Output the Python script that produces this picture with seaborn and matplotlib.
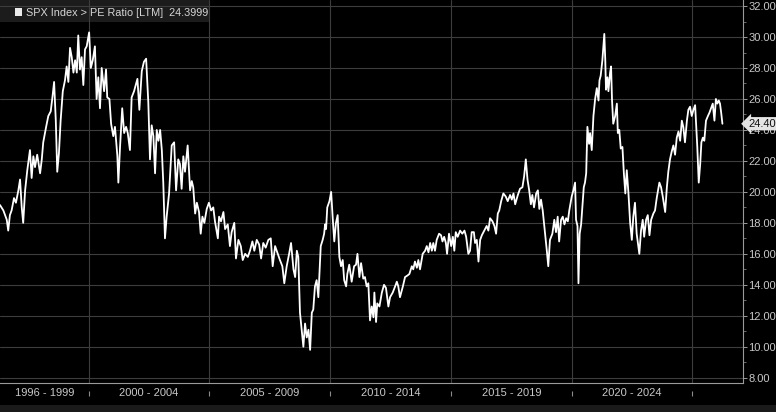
import matplotlib
matplotlib.use("Agg")
import matplotlib.pyplot as plt
import seaborn as sns
import pandas as pd
from matplotlib.patches import Rectangle

# ---- data (decimal year, trailing P/E) ----
dates = [
    1996.33, 1996.47, 1996.61, 1996.67, 1996.74, 1996.81, 1996.91, 1996.99, 1997.09, 1997.16,
    1997.23, 1997.29, 1997.37, 1997.46, 1997.57, 1997.64, 1997.71, 1997.78, 1997.87, 1997.99,
    1998.06, 1998.12, 1998.24, 1998.33, 1998.43, 1998.50, 1998.57, 1998.64, 1998.70, 1998.77,
    1998.84, 1998.93, 1999.02, 1999.09, 1999.16, 1999.23, 1999.30, 1999.37, 1999.44, 1999.51,
    1999.57, 1999.64, 1999.71, 1999.78, 1999.85, 1999.92, 2000.02, 2000.09, 2000.17, 2000.26,
    2000.33, 2000.40, 2000.47, 2000.54, 2000.64, 2000.72, 2000.77, 2000.86, 2000.93, 2001.02,
    2001.09, 2001.19, 2001.23, 2001.30, 2001.39, 2001.47, 2001.55, 2001.62, 2001.71, 2001.78,
    2001.88, 2001.95, 2002.02, 2002.10, 2002.20, 2002.29, 2002.38, 2002.47, 2002.54, 2002.61,
    2002.68, 2002.75, 2002.82, 2002.89, 2002.96, 2003.03, 2003.09, 2003.16, 2003.23, 2003.33,
    2003.44, 2003.54, 2003.62, 2003.71, 2003.78, 2003.85, 2003.92, 2003.99, 2004.10, 2004.20,
    2004.27, 2004.33, 2004.41, 2004.48, 2004.57, 2004.64, 2004.71, 2004.79, 2004.89, 2004.98,
    2005.07, 2005.16, 2005.23, 2005.35, 2005.40, 2005.48, 2005.58, 2005.65, 2005.76, 2005.85,
    2005.92, 2006.03, 2006.10, 2006.20, 2006.30, 2006.38, 2006.48, 2006.59, 2006.68, 2006.78,
    2006.86, 2006.96, 2007.06, 2007.14, 2007.23, 2007.33, 2007.44, 2007.54, 2007.62, 2007.72,
    2007.83, 2007.92, 2008.02, 2008.10, 2008.20, 2008.30, 2008.38, 2008.48, 2008.55, 2008.62,
    2008.68, 2008.75, 2008.82, 2008.89, 2008.96, 2009.03, 2009.10, 2009.17, 2009.24, 2009.30,
    2009.37, 2009.44, 2009.51, 2009.61, 2009.69, 2009.75, 2009.79, 2009.83, 2009.88, 2009.97,
    2010.04, 2010.11, 2010.17, 2010.24, 2010.31, 2010.38, 2010.45, 2010.52, 2010.58, 2010.66,
    2010.71, 2010.79, 2010.89, 2010.99, 2011.07, 2011.13, 2011.21, 2011.28, 2011.37, 2011.44,
    2011.51, 2011.58, 2011.65, 2011.72, 2011.79, 2011.83, 2011.90, 2011.95, 2012.04, 2012.14,
    2012.23, 2012.31, 2012.41, 2012.48, 2012.59, 2012.69, 2012.76, 2012.82, 2012.89, 2013.01,
    2013.10, 2013.20, 2013.28, 2013.38, 2013.44, 2013.51, 2013.59, 2013.65, 2013.72, 2013.83,
    2013.93, 2014.00, 2014.07, 2014.14, 2014.21, 2014.27, 2014.34, 2014.41, 2014.51, 2014.59,
    2014.65, 2014.72, 2014.79, 2014.84, 2014.92, 2015.01, 2015.08, 2015.14, 2015.20, 2015.28,
    2015.38, 2015.47, 2015.56, 2015.63, 2015.72, 2015.79, 2015.86, 2015.95, 2016.00, 2016.07,
    2016.14, 2016.21, 2016.28, 2016.38, 2016.48, 2016.55, 2016.62, 2016.72, 2016.80, 2016.87,
    2016.94, 2017.00, 2017.08, 2017.17, 2017.27, 2017.35, 2017.45, 2017.52, 2017.59, 2017.66,
    2017.77, 2017.86, 2017.96, 2018.03, 2018.10, 2018.17, 2018.24, 2018.31, 2018.37, 2018.44,
    2018.53, 2018.60, 2018.66, 2018.73, 2018.80, 2018.90, 2018.97, 2019.03, 2019.10, 2019.20,
    2019.28, 2019.35, 2019.42, 2019.48, 2019.56, 2019.63, 2019.70, 2019.77, 2019.84, 2019.90,
    2020.00, 2020.07, 2020.14, 2020.18, 2020.24, 2020.28, 2020.33, 2020.39, 2020.44, 2020.50,
    2020.55, 2020.60, 2020.65, 2020.72, 2020.76, 2020.83, 2020.90, 2020.97, 2021.04, 2021.11,
    2021.15, 2021.20, 2021.27, 2021.31, 2021.35, 2021.39, 2021.42, 2021.48, 2021.52, 2021.59,
    2021.63, 2021.67, 2021.72, 2021.80, 2021.87, 2021.91, 2021.97, 2022.03, 2022.10, 2022.16,
    2022.22, 2022.28, 2022.35, 2022.42, 2022.49, 2022.55, 2022.62, 2022.69, 2022.80, 2022.87,
    2022.94, 2023.00, 2023.08, 2023.15, 2023.22, 2023.29, 2023.38, 2023.45, 2023.52, 2023.63,
    2023.70, 2023.77, 2023.87, 2023.94, 2024.00, 2024.07, 2024.14, 2024.21, 2024.28, 2024.35,
    2024.42, 2024.49, 2024.56, 2024.62, 2024.69, 2024.77, 2024.83, 2024.90, 2024.97, 2025.04,
    2025.11, 2025.15, 2025.20, 2025.26, 2025.32, 2025.37, 2025.43, 2025.49, 2025.56, 2025.64,
    2025.70, 2025.77, 2025.84, 2025.91, 2025.97, 2026.03, 2026.09, 2026.14, 2026.19, 2026.24,
]
pe_ratio = [
    19.15, 18.8, 18.2, 17.5, 18.5, 18.8, 19.6, 19.3, 20.1, 20.8,
    19.0, 18.0, 20.1, 21.4, 22.7, 20.9, 22.3, 21.6, 22.4, 21.2,
    22.1, 23.2, 24.2, 24.9, 25.2, 26.1, 27.1, 24.6, 21.3, 22.5,
    24.6, 26.5, 27.2, 28.1, 27.1, 29.3, 28.7, 27.7, 28.5, 27.7,
    30.1, 27.9, 28.7, 26.9, 29.2, 29.4, 30.3, 28.0, 28.5, 29.4,
    26.0, 27.4, 25.4, 28.0, 26.5, 27.9, 26.1, 26.0, 24.4, 23.6,
    24.2, 22.3, 20.6, 22.9, 25.4, 23.8, 24.2, 23.8, 22.7, 26.1,
    26.5, 26.9, 27.3, 25.3, 27.8, 28.4, 28.6, 25.8, 22.1, 24.3,
    23.6, 21.2, 24.0, 23.3, 24.0, 22.7, 20.6, 17.0, 18.4, 19.9,
    23.0, 23.2, 20.1, 22.1, 21.8, 20.2, 22.3, 21.3, 23.0, 20.1,
    20.7, 20.3, 18.6, 19.3, 18.7, 17.3, 18.4, 18.0, 18.9, 19.3,
    18.8, 19.0, 18.1, 17.0, 18.4, 18.1, 18.7, 17.6, 17.9, 16.5,
    17.4, 18.0, 15.7, 16.9, 16.5, 15.6, 16.0, 15.8, 16.2, 16.8,
    16.2, 16.9, 16.6, 15.7, 16.7, 16.4, 16.9, 17.0, 15.2, 16.5,
    16.0, 15.6, 15.2, 14.1, 15.2, 16.0, 16.7, 15.0, 14.5, 16.2,
    15.8, 12.2, 11.1, 10.0, 11.5, 10.6, 11.1, 9.8, 12.2, 12.4,
    13.9, 14.3, 13.2, 16.5, 16.9, 17.3, 17.9, 17.6, 19.0, 19.4,
    20.0, 18.2, 16.8, 18.0, 18.5, 15.8, 15.2, 15.6, 14.3, 13.9,
    14.7, 15.3, 14.2, 15.2, 15.3, 16.0, 14.5, 15.4, 14.4, 14.5,
    13.9, 14.1, 11.7, 12.6, 11.9, 13.5, 11.6, 12.8, 12.6, 13.5,
    14.0, 13.8, 12.6, 13.2, 13.5, 13.9, 14.2, 13.9, 13.2, 13.9,
    14.5, 14.6, 14.7, 15.2, 15.0, 15.5, 15.1, 15.6, 15.0, 16.0,
    16.2, 16.5, 16.1, 16.7, 16.2, 16.7, 16.2, 16.9, 17.3, 17.2,
    16.8, 17.1, 16.7, 16.0, 17.3, 16.5, 17.1, 16.2, 17.4, 17.1,
    17.5, 17.3, 17.5, 17.1, 16.0, 16.2, 17.4, 17.4, 16.7, 16.9,
    15.5, 16.9, 17.2, 17.5, 17.8, 17.5, 18.3, 18.1, 17.8, 17.3,
    18.6, 18.8, 19.4, 19.9, 19.7, 19.4, 19.8, 19.5, 19.9, 19.2,
    19.8, 20.2, 20.3, 21.0, 22.1, 20.8, 20.1, 19.2, 19.8, 19.0,
    19.9, 20.1, 18.9, 19.5, 18.8, 17.3, 16.2, 15.2, 16.9, 17.3,
    18.2, 17.4, 18.4, 16.8, 18.2, 18.4, 17.9, 18.3, 18.1, 18.8,
    19.7, 20.1, 20.6, 18.2, 17.8, 14.1, 17.3, 17.9, 19.0, 20.3,
    20.6, 21.2, 24.2, 23.1, 23.8, 22.7, 24.9, 26.0, 26.7, 25.9,
    27.2, 27.5, 28.5, 29.4, 30.2, 28.5, 26.6, 27.4, 26.5, 27.7,
    28.1, 25.9, 24.4, 24.9, 25.7, 23.8, 24.0, 22.8, 22.9, 21.2,
    19.9, 21.4, 19.9, 18.0, 16.9, 18.4, 19.3, 17.3, 16.0, 17.5,
    18.2, 17.1, 18.2, 18.5, 17.2, 18.2, 18.6, 18.8, 19.6, 20.6,
    20.3, 19.7, 18.7, 20.3, 21.3, 22.1, 22.6, 23.0, 22.4, 23.5,
    23.9, 23.3, 24.6, 24.2, 23.2, 24.6, 25.3, 25.5, 24.9, 25.3,
    25.6, 24.4, 22.9, 20.6, 21.8, 23.2, 23.5, 23.3, 24.6, 24.9,
    25.1, 25.4, 25.7, 24.6, 26.0, 25.7, 25.9, 25.7, 25.1, 24.4,
]
period_bounds = [2000, 2005, 2010, 2015, 2020, 2025]
period_labels = ["1996 - 1999", "2000 - 2004", "2005 - 2009", "2010 - 2014", "2015 - 2019", "2020 - 2024"]
period_centers = [1998.17, 2002.5, 2007.5, 2012.5, 2017.5, 2022.5]
year_ticks = list(range(1997, 2028))
y_ticks = [8, 10, 12, 14, 16, 18, 20, 22, 24, 26, 28, 30, 32]
y_minor = [9, 11, 13, 15, 17, 19, 21, 23, 25, 27, 29, 31]
last_value = 24.40
legend_text = "SPX Index > PE Ratio [LTM]  24.3999"

df = pd.DataFrame({"date": dates, "pe": pe_ratio})

sns.set_theme(style="dark")
plt.rcParams["font.family"] = ["Liberation Sans", "DejaVu Sans"]

W, H = 776, 412
fig = plt.figure(figsize=(W / 100, H / 100), dpi=100, facecolor="black")
ax = fig.add_axes([0, (H - 383) / H, 742.7 / W, 383 / H])
ax.set_facecolor("none")

# legend header bar (beneath grid)
fig.patches.append(Rectangle((0, 1 - 22 / H), 209 / W, 22 / H, transform=fig.transFigure,
                             facecolor="#1c1c1c", edgecolor="none", zorder=-5))
# bottom strip
fig.patches.append(Rectangle((0, 0), 1, 7 / H, transform=fig.transFigure,
                             facecolor="#1a1a1a", edgecolor="none", zorder=-5))

sns.lineplot(data=df, x="date", y="pe", ax=ax, color="white", linewidth=1.3, zorder=3)

ax.set_xlim(1996.33, 2027.08)
ax.set_ylim(7.66, 32.39)
ax.set_xlabel("")
ax.set_ylabel("")

# grid
ax.set_axisbelow(True)
ax.set_xticks(period_bounds)
ax.set_xticklabels([])
ax.set_xticks(year_ticks, minor=True)
ax.grid(False)
for b in period_bounds:
    ax.axvline(b, color="#3d3d3d", linewidth=0.8, zorder=1)
for v in y_ticks:
    ax.axhline(v, color="#3d3d3d", linewidth=0.8, zorder=1)

ax.tick_params(axis="x", which="major", length=0)
ax.tick_params(axis="x", which="minor", length=3, width=0.7, color="#8a8a8a", direction="out")

# y axis on right
ax.yaxis.tick_right()
ax.set_yticks(y_ticks)
ax.set_yticks(y_minor, minor=True)
ax.set_yticklabels([f"{v:.2f}" for v in y_ticks])
ax.tick_params(axis="y", which="major", length=3, width=0.7, color="#9a9a9a",
               labelcolor="#c8c8c8", labelsize=8, pad=1, direction="out")
ax.tick_params(axis="y", which="minor", length=2, width=0.6, color="#7a7a7a", direction="out")

for s in ["left", "top"]:
    ax.spines[s].set_visible(False)
for s in ["right", "bottom"]:
    ax.spines[s].set_visible(True)
    ax.spines[s].set_color("#9a9a9a")
    ax.spines[s].set_linewidth(0.8)

# period labels and separators
xt = ax.get_xaxis_transform()
for c, lab in zip(period_centers, period_labels):
    ax.text(c, -0.027, lab, transform=xt, ha="center", va="center",
            color="#c8c8c8", fontsize=8, clip_on=False)
ax.vlines(period_bounds, -0.034, -0.021, transform=xt, colors="#8a8a8a",
          linewidth=0.8, clip_on=False)

# last value tag (sits over the 24.00 label, as in the reference)
ax.annotate(f"{last_value:.2f}", xy=(1.0, last_value), xycoords=ax.get_yaxis_transform(),
            xytext=(4, 0), textcoords="offset points", ha="left", va="center",
            fontsize=8, color="#111111", annotation_clip=False, zorder=10,
            bbox=dict(boxstyle="larrow,pad=0.15", fc="#e4e4e4", ec="none"))

# legend header
fig.patches.append(Rectangle((15 / W, 1 - 16 / H), 7 / W, 8 / H, transform=fig.transFigure,
                             facecolor="#eaeaea", edgecolor="none", zorder=5))
fig.text(26 / W, 1 - 12.5 / H, legend_text, ha="left", va="center",
         color="#d6d6d6", fontsize=7.8)

fig.savefig("out.png", dpi=100, facecolor="black")
